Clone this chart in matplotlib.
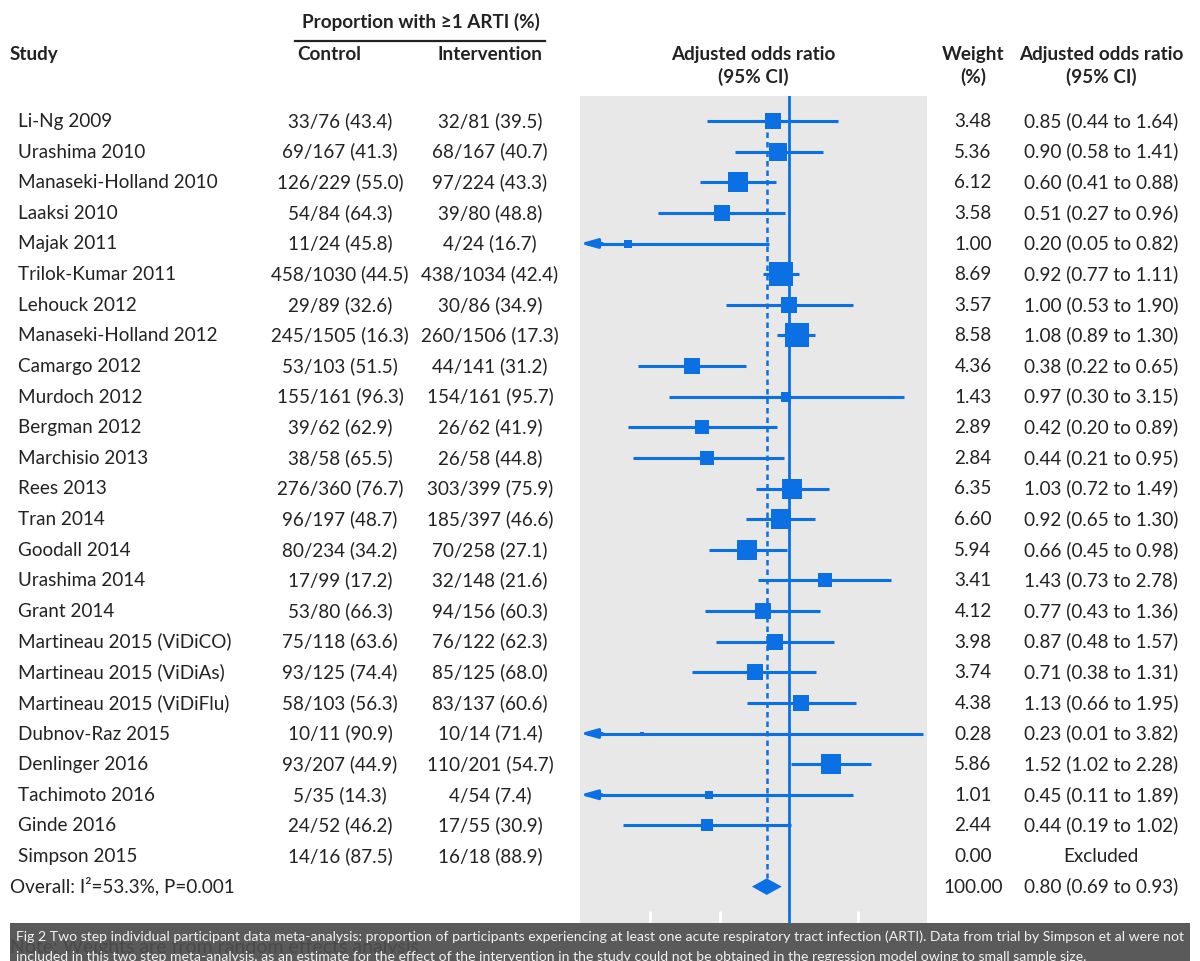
import numpy as np
import matplotlib
matplotlib.use("Agg")
import matplotlib.pyplot as plt
from matplotlib.transforms import blended_transform_factory
from matplotlib.patches import Rectangle, Polygon

plt.rcParams['font.family'] = ['Lato', 'DejaVu Sans']

studies = ["Li-Ng 2009", "Urashima 2010", "Manaseki-Holland 2010", "Laaksi 2010",
           "Majak 2011", "Trilok-Kumar 2011", "Lehouck 2012", "Manaseki-Holland 2012",
           "Camargo 2012", "Murdoch 2012", "Bergman 2012", "Marchisio 2013",
           "Rees 2013", "Tran 2014", "Goodall 2014", "Urashima 2014", "Grant 2014",
           "Martineau 2015 (ViDiCO)", "Martineau 2015 (ViDiAs)", "Martineau 2015 (ViDiFlu)",
           "Dubnov-Raz 2015", "Denlinger 2016", "Tachimoto 2016", "Ginde 2016", "Simpson 2015"]
control = ["33/76 (43.4)", "69/167 (41.3)", "126/229 (55.0)", "54/84 (64.3)", "11/24 (45.8)",
           "458/1030 (44.5)", "29/89 (32.6)", "245/1505 (16.3)", "53/103 (51.5)", "155/161 (96.3)",
           "39/62 (62.9)", "38/58 (65.5)", "276/360 (76.7)", "96/197 (48.7)", "80/234 (34.2)",
           "17/99 (17.2)", "53/80 (66.3)", "75/118 (63.6)", "93/125 (74.4)", "58/103 (56.3)",
           "10/11 (90.9)", "93/207 (44.9)", "5/35 (14.3)", "24/52 (46.2)", "14/16 (87.5)"]
intervention = ["32/81 (39.5)", "68/167 (40.7)", "97/224 (43.3)", "39/80 (48.8)", "4/24 (16.7)",
                "438/1034 (42.4)", "30/86 (34.9)", "260/1506 (17.3)", "44/141 (31.2)", "154/161 (95.7)",
                "26/62 (41.9)", "26/58 (44.8)", "303/399 (75.9)", "185/397 (46.6)", "70/258 (27.1)",
                "32/148 (21.6)", "94/156 (60.3)", "76/122 (62.3)", "85/125 (68.0)", "83/137 (60.6)",
                "10/14 (71.4)", "110/201 (54.7)", "4/54 (7.4)", "17/55 (30.9)", "16/18 (88.9)"]
weights = [3.48, 5.36, 6.12, 3.58, 1.00, 8.69, 3.57, 8.58, 4.36, 1.43, 2.89, 2.84, 6.35,
           6.60, 5.94, 3.41, 4.12, 3.98, 3.74, 4.38, 0.28, 5.86, 1.01, 2.44, 0.00]
odds = [0.85, 0.90, 0.60, 0.51, 0.20, 0.92, 1.00, 1.08, 0.38, 0.97, 0.42, 0.44, 1.03,
        0.92, 0.66, 1.43, 0.77, 0.87, 0.71, 1.13, 0.23, 1.52, 0.45, 0.44, np.nan]
ci_low = [0.44, 0.58, 0.41, 0.27, 0.05, 0.77, 0.53, 0.89, 0.22, 0.30, 0.20, 0.21, 0.72,
          0.65, 0.45, 0.73, 0.43, 0.48, 0.38, 0.66, 0.01, 1.02, 0.11, 0.19, np.nan]
ci_high = [1.64, 1.41, 0.88, 0.96, 0.82, 1.11, 1.90, 1.30, 0.65, 3.15, 0.89, 0.95, 1.49,
           1.30, 0.98, 2.78, 1.36, 1.57, 1.31, 1.95, 3.82, 2.28, 1.89, 1.02, np.nan]
overall = (0.80, 0.69, 0.93)
overall_weight = 100.00
overall_label = "Overall: I²=53.3%, P=0.001"
ticks = [0.25, 0.5, 1, 2]

W, H = 1200, 961
BLUE = '#0a70e4'
INK = '#222222'
fig = plt.figure(figsize=(W / 100, H / 100), dpi=100)

def fx(px):
    return px / W

def fy(py):
    return 1 - py / H

# forest panel
top, bot = 96, 923
row0, step = 121, 30.625
ax = fig.add_axes([fx(580), fy(bot), fx(927) - fx(580), (bot - top) / H])
ax.set_facecolor('#e8e8e8')
for s in ax.spines.values():
    s.set_visible(False)
ax.set_xscale('log')
xmin, xmax = np.exp(-2.09), np.exp(1.38)
ax.set_xlim(xmin, xmax)
ax.set_ylim((bot - row0) / step, (top - row0) / step)
ax.set_yticks([])
ax.set_xticks(ticks)
ax.set_xticklabels([])
ax.xaxis.set_minor_locator(matplotlib.ticker.NullLocator())
ax.tick_params(axis='x', direction='in', color='white', length=9, width=2)

ax.axvline(1, color=BLUE, lw=2, zorder=2)
n = len(studies)
ax.plot([overall[0], overall[0]], [0.36, n - 0.27], color=BLUE, lw=1.8, ls=(0, (2.2, 1.6)), zorder=2)

for i in range(n):
    if np.isnan(odds[i]):
        continue
    lo, hi = ci_low[i], min(ci_high[i], xmax)
    if lo < xmin:
        ax.plot([xmin * 1.07, hi], [i, i], color=BLUE, lw=2.2, zorder=3, solid_capstyle='butt')
        ax.annotate('', xy=(xmin * 1.0, i), xytext=(xmin * 1.25, i),
                    arrowprops=dict(arrowstyle='-|>,head_length=1.0,head_width=0.28',
                                    color=BLUE, lw=2.2, shrinkA=0, shrinkB=0), zorder=3)
    else:
        ax.plot([lo, hi], [i, i], color=BLUE, lw=2.2, zorder=3, solid_capstyle='butt')
    side = 5.8 * np.sqrt(weights[i])
    ax.scatter([odds[i]], [i], marker='s', s=side ** 2, color=BLUE, linewidths=0, zorder=4)

# overall diamond
yo = n
dh = 0.27
ax.add_patch(Polygon([(overall[1], yo), (overall[0], yo - dh), (overall[2], yo),
                      (overall[0], yo + dh)], closed=True, color=BLUE, lw=0, zorder=4))

# table text (baseline sits ~6 px below the row centre)
tr = blended_transform_factory(fig.transFigure, ax.transData)
fs = 13.6
dy = 6 / step
for i in range(n):
    yb = i + dy
    fig.text(fx(18), yb, studies[i], transform=tr, fontsize=fs, va='baseline', ha='left', color=INK)
    fig.text(fx(340), yb, control[i], transform=tr, fontsize=fs, va='baseline', ha='center', color=INK)
    fig.text(fx(490), yb, intervention[i], transform=tr, fontsize=fs, va='baseline', ha='center', color=INK)
    fig.text(fx(973), yb, f"{weights[i]:.2f}", transform=tr, fontsize=fs, va='baseline', ha='center', color=INK)
    if np.isnan(odds[i]):
        lab = "Excluded"
    else:
        lab = f"{odds[i]:.2f} ({ci_low[i]:.2f} to {ci_high[i]:.2f})"
    fig.text(fx(1101), yb, lab, transform=tr, fontsize=fs, va='baseline', ha='center', color=INK)

fig.text(fx(10), yo + dy, overall_label, transform=tr, fontsize=fs, va='baseline', ha='left', color=INK)
fig.text(fx(973), yo + dy, f"{overall_weight:.2f}", transform=tr, fontsize=fs, va='baseline', ha='center', color=INK)
fig.text(fx(1101), yo + dy, f"{overall[0]:.2f} ({overall[1]:.2f} to {overall[2]:.2f})", transform=tr,
         fontsize=fs, va='baseline', ha='center', color=INK)

# headers
hk = dict(fontsize=fs, fontweight='bold', color=INK, va='baseline')
fig.text(fx(10), fy(60), "Study", ha='left', **hk)
fig.text(fx(421), fy(28), "Proportion with ≥1 ARTI (%)", ha='center', **hk)
fig.add_artist(plt.Line2D([fx(295), fx(545)], [fy(41), fy(41)], color=INK, lw=1.6))
fig.text(fx(329), fy(60), "Control", ha='center', **hk)
fig.text(fx(490), fy(60), "Intervention", ha='center', **hk)
fig.text(fx(753), fy(60), "Adjusted odds ratio", ha='center', **hk)
fig.text(fx(753), fy(83), "(95% CI)", ha='center', **hk)
fig.text(fx(973), fy(60), "Weight", ha='center', **hk)
fig.text(fx(973), fy(83), "(%)", ha='center', **hk)
fig.text(fx(1101), fy(60), "Adjusted odds ratio", ha='center', **hk)
fig.text(fx(1101), fy(83), "(95% CI)", ha='center', **hk)

# caption bar
fig.add_artist(Rectangle((fx(10), 0), fx(1180), (H - 923) / H, transform=fig.transFigure,
                         facecolor='#5a5a5a', edgecolor='none', zorder=5))
fig.text(fx(10), fy(953), "Note: Weights are from random effects analysis", fontsize=14,
         color='#4a4a4a', ha='left', va='baseline', zorder=6)
fig.text(fx(16), fy(941), "Fig 2 Two step individual participant data meta-analysis: proportion of participants "
         "experiencing at least one acute respiratory tract infection (ARTI). Data from trial by Simpson et al were not",
         fontsize=10.1, color='#f2f2f2', ha='left', va='baseline', zorder=7)
fig.text(fx(16), fy(961), "included in this two step meta-analysis, as an estimate for the effect of the intervention "
         "in the study could not be obtained in the regression model owing to small sample size.",
         fontsize=10.1, color='#f2f2f2', ha='left', va='baseline', zorder=7)

fig.savefig('out.png', dpi=100)
